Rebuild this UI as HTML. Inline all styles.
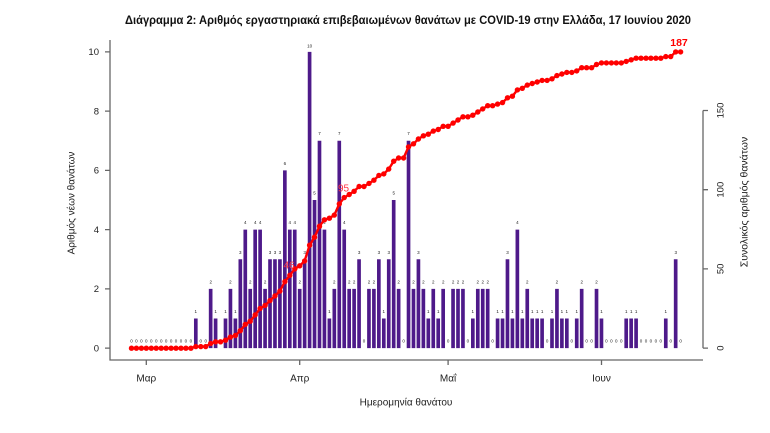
<!DOCTYPE html>
<html><head><meta charset="utf-8"><style>
html,body{margin:0;padding:0;background:#fff;}
svg{display:block;}
text{font-family:"Liberation Sans",sans-serif;}
</style></head><body>
<svg width="770" height="433" viewBox="0 0 770 433" xmlns="http://www.w3.org/2000/svg">
<defs>
<marker id="d" viewBox="-3 -3 6 6" markerWidth="6" markerHeight="6" refX="0" refY="0" markerUnits="userSpaceOnUse"><circle r="2.7" fill="#ff0000"/></marker>
</defs>
<rect width="770" height="433" fill="#fff"/>
<text x="408" y="24" text-anchor="middle" font-size="11.5" font-weight="bold" fill="#111" textLength="566" lengthAdjust="spacingAndGlyphs">Διάγραμμα 2: Αριθμός εργαστηριακά επιβεβαιωμένων θανάτων με COVID-19 στην Ελλάδα, 17 Ιουνίου 2020</text>

<!-- bars -->
<g transform="translate(131.5 348.15) scale(4.947 -29.63)">
<path fill="none" stroke="#4E1A8A" stroke-width="0.74" d="M13 0V1M16 0V2M17 0V1M19 0V1M20 0V2M21 0V1M22 0V3M23 0V4M24 0V2M25 0V4M26 0V4M27 0V2M28 0V3M29 0V3M30 0V3M31 0V6M32 0V4M33 0V4M34 0V2M35 0V3M36 0V10M37 0V5M38 0V7M39 0V4M40 0V1M41 0V2M42 0V7M43 0V4M44 0V2M45 0V2M46 0V3M48 0V2M49 0V2M50 0V3M51 0V1M52 0V3M53 0V5M54 0V2M56 0V7M57 0V2M58 0V3M59 0V2M60 0V1M61 0V2M62 0V1M63 0V2M65 0V2M66 0V2M67 0V2M69 0V1M70 0V2M71 0V2M72 0V2M74 0V1M75 0V1M76 0V3M77 0V1M78 0V4M79 0V1M80 0V2M81 0V1M82 0V1M83 0V1M85 0V1M86 0V2M87 0V1M88 0V1M90 0V1M91 0V2M94 0V2M95 0V1M100 0V1M101 0V1M102 0V1M108 0V1M110 0V3"/>
</g>

<!-- bar labels -->
<g font-size="4.5" fill="#222" text-anchor="middle">
<text x="131.5 136.4 141.4 146.3 151.3 156.2 161.2 166.1 171.1 176.0 181.0 185.9 190.9 200.8 205.7 364.0 403.6 448.1 467.9 492.6 547.1 571.8 586.6 591.6 606.4 611.4 616.3 621.3 641.0 646.0 650.9 655.9 660.8 670.7 680.6" y="342.6">00000000000000000000000000000000000</text>
<text x="195.8 215.6 225.5 235.4 329.4 383.8 428.3 438.2 472.8 497.6 502.5 512.4 522.3 532.2 537.2 542.1 552.0 561.9 566.8 576.7 601.5 626.2 631.2 636.1 665.8" y="313">1111111111111111111111111</text>
<text x="210.7 230.4 250.2 265.1 299.7 334.3 349.2 354.1 369.0 373.9 398.6 413.5 423.4 433.3 443.2 453.1 458.0 463.0 477.8 482.7 487.7 527.3 556.9 581.7 596.5" y="283.4">2222222222222222222222222</text>
<text x="240.3 270.0 275.0 279.9 304.6 359.1 378.9 388.7 418.4 507.5 675.7" y="253.8">33333333333</text>
<text x="245.3 255.2 260.1 289.8 294.8 324.4 344.2 517.4" y="224.1">44444444</text>
<text x="314.5 393.7" y="194.5">55</text>
<text x="284.9" y="164.9">6</text>
<text x="319.5 339.3 408.5" y="135.2">777</text>
<text x="309.6" y="47.5">10</text>
</g>

<!-- cumulative line -->
<polyline fill="none" stroke="#ff0000" stroke-width="2.4" stroke-linejoin="round" marker-start="url(#d)" marker-mid="url(#d)" marker-end="url(#d)" points="131.5,348.2 136.4,348.2 141.4,348.2 146.3,348.2 151.3,348.2 156.2,348.2 161.2,348.2 166.1,348.2 171.1,348.2 176.0,348.2 181.0,348.2 185.9,348.2 190.9,348.2 195.8,346.6 200.8,346.6 205.7,346.6 210.7,343.4 215.6,341.8 220.5,341.8 225.5,340.2 230.4,337.1 235.4,335.5 240.3,330.7 245.3,324.4 250.2,321.2 255.2,314.9 260.1,308.5 265.1,305.4 270.0,300.6 275.0,295.9 279.9,291.1 284.9,281.6 289.8,275.3 294.8,268.9 299.7,265.8 304.6,261.0 309.6,245.2 314.5,237.2 319.5,226.2 324.4,219.8 329.4,218.2 334.3,215.1 339.3,203.9 344.2,197.6 349.2,194.5 354.1,191.3 359.1,186.5 364.0,186.5 369.0,183.4 373.9,180.2 378.9,175.4 383.8,173.9 388.7,169.1 393.7,161.2 398.6,158.0 403.6,158.0 408.5,146.9 413.5,143.8 418.4,139.0 423.4,135.8 428.3,134.2 433.3,131.1 438.2,129.5 443.2,126.3 448.1,126.3 453.1,123.1 458.0,120.0 463.0,116.8 467.9,116.8 472.8,115.2 477.8,112.0 482.7,108.9 487.7,105.7 492.6,105.7 497.6,104.1 502.5,102.6 507.5,97.8 512.4,96.2 517.4,89.9 522.3,88.3 527.3,85.1 532.2,83.5 537.2,82.0 542.1,80.4 547.1,80.4 552.0,78.8 556.9,75.6 561.9,74.0 566.8,72.4 571.8,72.4 576.7,70.9 581.7,67.7 586.6,67.7 591.6,67.7 596.5,64.5 601.5,62.9 606.4,62.9 611.4,62.9 616.3,62.9 621.3,62.9 626.2,61.4 631.2,59.8 636.1,58.2 641.0,58.2 646.0,58.2 650.9,58.2 655.9,58.2 660.8,58.2 665.8,56.6 670.7,56.6 675.7,51.9 680.6,51.9"/>

<text x="289" y="268.6" text-anchor="middle" font-size="10" fill="#ff3344">46</text>
<text x="343.5" y="191.3" text-anchor="middle" font-size="10" fill="#ff3344">95</text>
<text x="679" y="46" text-anchor="middle" font-size="10.5" font-weight="bold" fill="#ff0000">187</text>

<!-- axes -->
<g stroke="#666" stroke-width="1.3" fill="none">
<path d="M110 40V360H703"/>
<path d="M105 348.15H110M105 288.9H110M105 229.6H110M105 170.4H110M105 111.1H110M105 51.85H110"/>
<path d="M146.3 360V365M299.7 360V365M448.1 360V365M601.5 360V365"/>
<path d="M703 110.5V348.15M703 348.15H708M703 268.9H708M703 189.7H708M703 110.5H708"/>
</g>

<g font-size="9.5" fill="#222" text-anchor="end">
<text x="99" y="351.4">0</text>
<text x="99" y="292.2">2</text>
<text x="99" y="232.9">4</text>
<text x="99" y="173.7">6</text>
<text x="99" y="114.4">8</text>
<text x="99" y="55.2">10</text>
</g>

<g font-size="9.5" fill="#222" text-anchor="middle">
<text transform="translate(723.3 348.15) rotate(-90)">0</text>
<text transform="translate(723.3 268.9) rotate(-90)">50</text>
<text transform="translate(723.3 189.7) rotate(-90)">100</text>
<text transform="translate(723.3 110.5) rotate(-90)">150</text>
</g>

<g font-size="10" fill="#222" text-anchor="middle">
<text x="146.3" y="381.5">Μαρ</text>
<text x="299.7" y="381.5">Απρ</text>
<text x="448.1" y="381.5">Μαΐ</text>
<text x="601.5" y="381.5">Ιουν</text>
<text x="406" y="405.5">Ημερομηνία θανάτου</text>
<text transform="translate(74.3 203) rotate(-90)">Αριθμός νέων θανάτων</text>
<text transform="translate(747.6 202) rotate(-90)" font-size="10.5">Συνολικός αριθμός θανάτων</text>
</g>
</svg>
</body></html>
